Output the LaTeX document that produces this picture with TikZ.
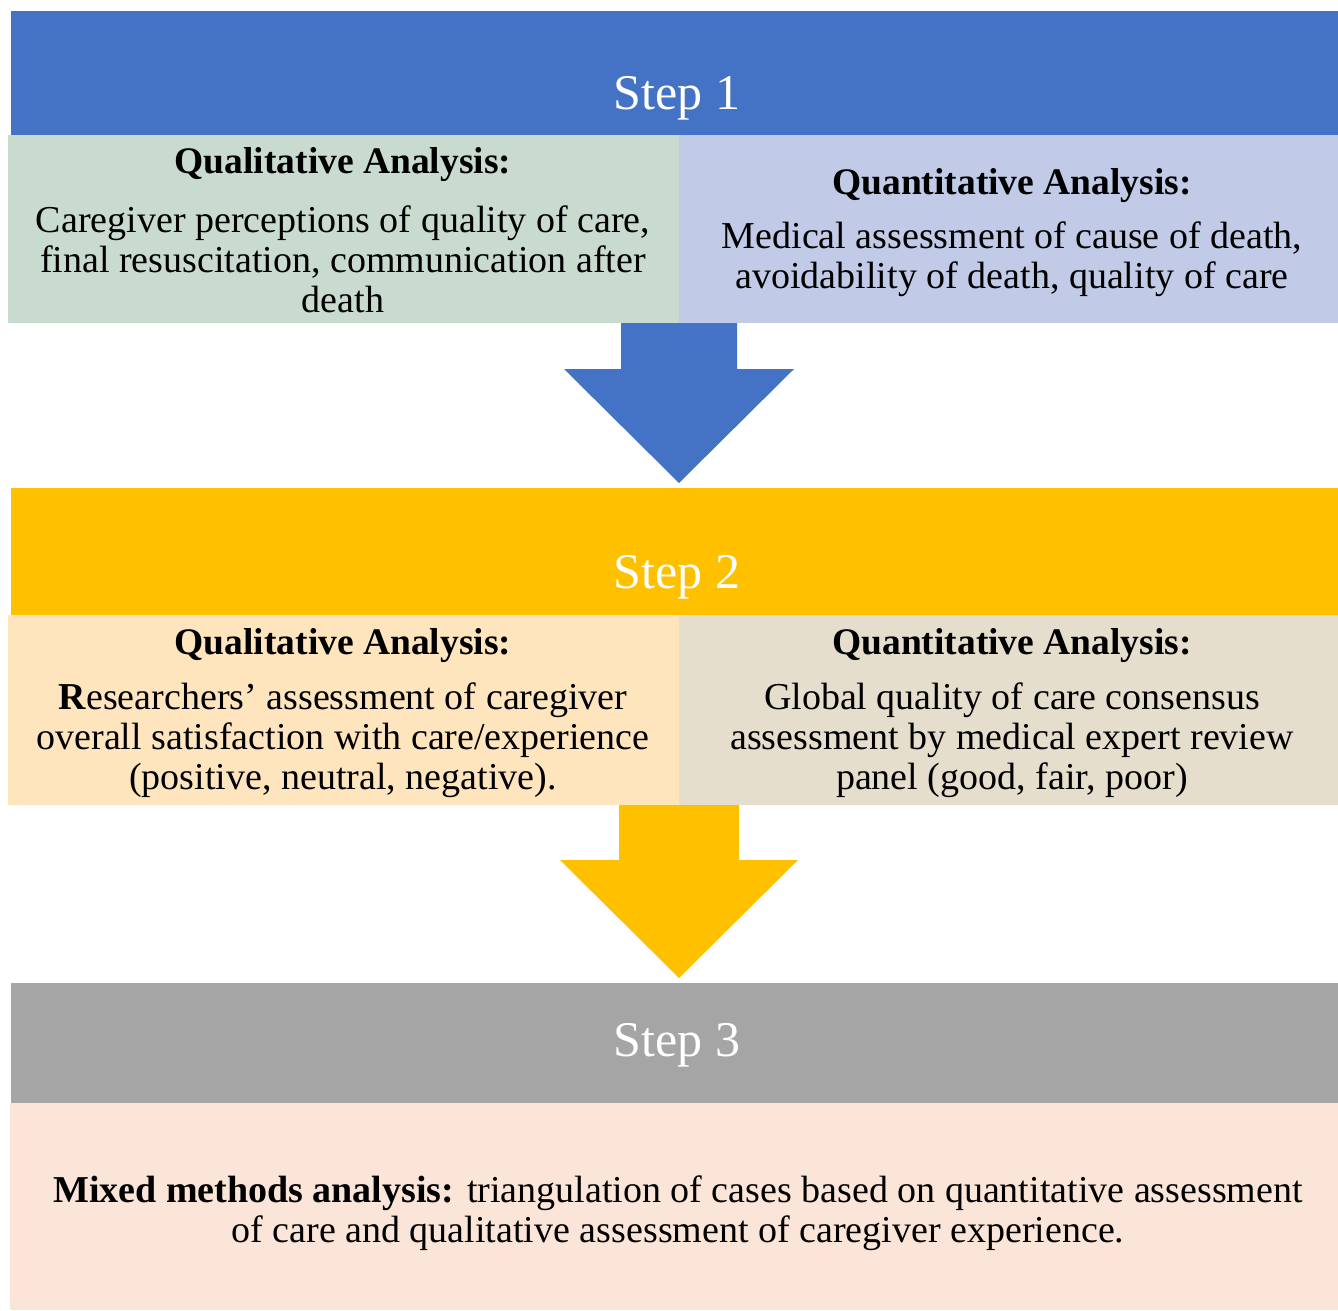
\documentclass[tikz,border=0pt]{standalone}
\usepackage{fontspec}
\setmainfont{Liberation Serif}
\usetikzlibrary{positioning,calc}
\definecolor{stepA}{HTML}{4472C4}
\definecolor{stepB}{HTML}{FFC000}
\definecolor{stepC}{HTML}{A5A5A5}
\definecolor{qualA}{HTML}{C9DACF}
\definecolor{quanA}{HTML}{C1CAE6}
\definecolor{qualB}{HTML}{FEE5BD}
\definecolor{quanB}{HTML}{E5DECD}
\definecolor{mixC}{HTML}{FAE5D8}

\begin{document}
\begin{tikzpicture}[x=1pt,y=-1pt,
  box/.style={rectangle,inner sep=0pt,outer sep=0pt,anchor=north west},
  steptxt/.style={text=white,font=\fontsize{50}{55}\selectfont},
  headtxt/.style={font=\fontsize{37.5}{40}\selectfont\bfseries},
  bodytxt/.style={align=center,font=\fontsize{38}{40}\selectfont}]
  \useasboundingbox[fill=white] (0,0) rectangle (1338,1310);
  % boxes
  \node[box,fill=stepA,minimum width=1327pt,minimum height=124pt] (sa) at (11,11) {};
  \node[box,fill=qualA,minimum width=671pt,minimum height=188pt] (qa) at (8,135) {};
  \node[box,fill=quanA,minimum width=659pt,minimum height=188pt] (na) at (679,135) {};
  \node[box,fill=stepB,minimum width=1327pt,minimum height=127pt] (sb) at (11,488) {};
  \node[box,fill=qualB,minimum width=671pt,minimum height=190pt] (qb) at (8,615) {};
  \node[box,fill=quanB,minimum width=659pt,minimum height=190pt] (nb) at (679,615) {};
  \node[box,fill=stepC,minimum width=1327pt,minimum height=120pt] (sc) at (11,983) {};
  \node[box,fill=mixC,minimum width=1328pt,minimum height=207pt] (mc) at (10,1103) {};
  % arrows
  \fill[stepA] ($(qa.south east)+(-58,0)$) -- ++(0,46) -- ++(-57,0)
    -- ($(qa.south east)+(0,160)$) -- ($(qa.south east)+(115,46)$)
    -- ++(-57,0) -- ($(qa.south east)+(58,0)$) -- cycle;
  \fill[stepB] ($(qb.south east)+(-60,0)$) -- ++(0,55) -- ++(-59,0)
    -- ($(qb.south east)+(0,173)$) -- ($(qb.south east)+(119,55)$)
    -- ++(-59,0) -- ($(qb.south east)+(60,0)$) -- cycle;
  % texts
  \node[steptxt] (ta) at (677,98) {Step 1};
  \node[headtxt] (ha) at (343,165) {Qualitative Analysis:};
  \node[bodytxt] (ba) at (343,259) {Caregiver perceptions of quality of care,\\
    final resuscitation, communication after\\ death};
  \node[headtxt] (hna) at (1012,186) {Quantitative Analysis:};
  \node[bodytxt] (bna) at (1012,259) {Medical assessment of cause of death,\\
    avoidability of death, quality of care};
  \node[steptxt] (tb) at (677,577) {Step 2};
  \node[headtxt] (hb) at (343,646) {Qualitative Analysis:};
  \node[bodytxt] (bb) at (343,740) {\textbf{R}esearchers’ assessment of caregiver\\
    overall satisfaction with care/experience\\ (positive, neutral, negative).};
  \node[headtxt] (hnb) at (1012,646) {Quantitative Analysis:};
  \node[bodytxt] (bnb) at (1012,740) {Global quality of care consensus\\
    assessment by medical expert review\\ panel (good, fair, poor)};
  \node[steptxt] (tc) at (677,1045) {Step 3};
  \node[bodytxt] (bc) at (678,1213) {\textbf{Mixed methods analysis:} triangulation of cases based on quantitative assessment\\
    of care and qualitative assessment of caregiver experience.};
\end{tikzpicture}
\end{document}
